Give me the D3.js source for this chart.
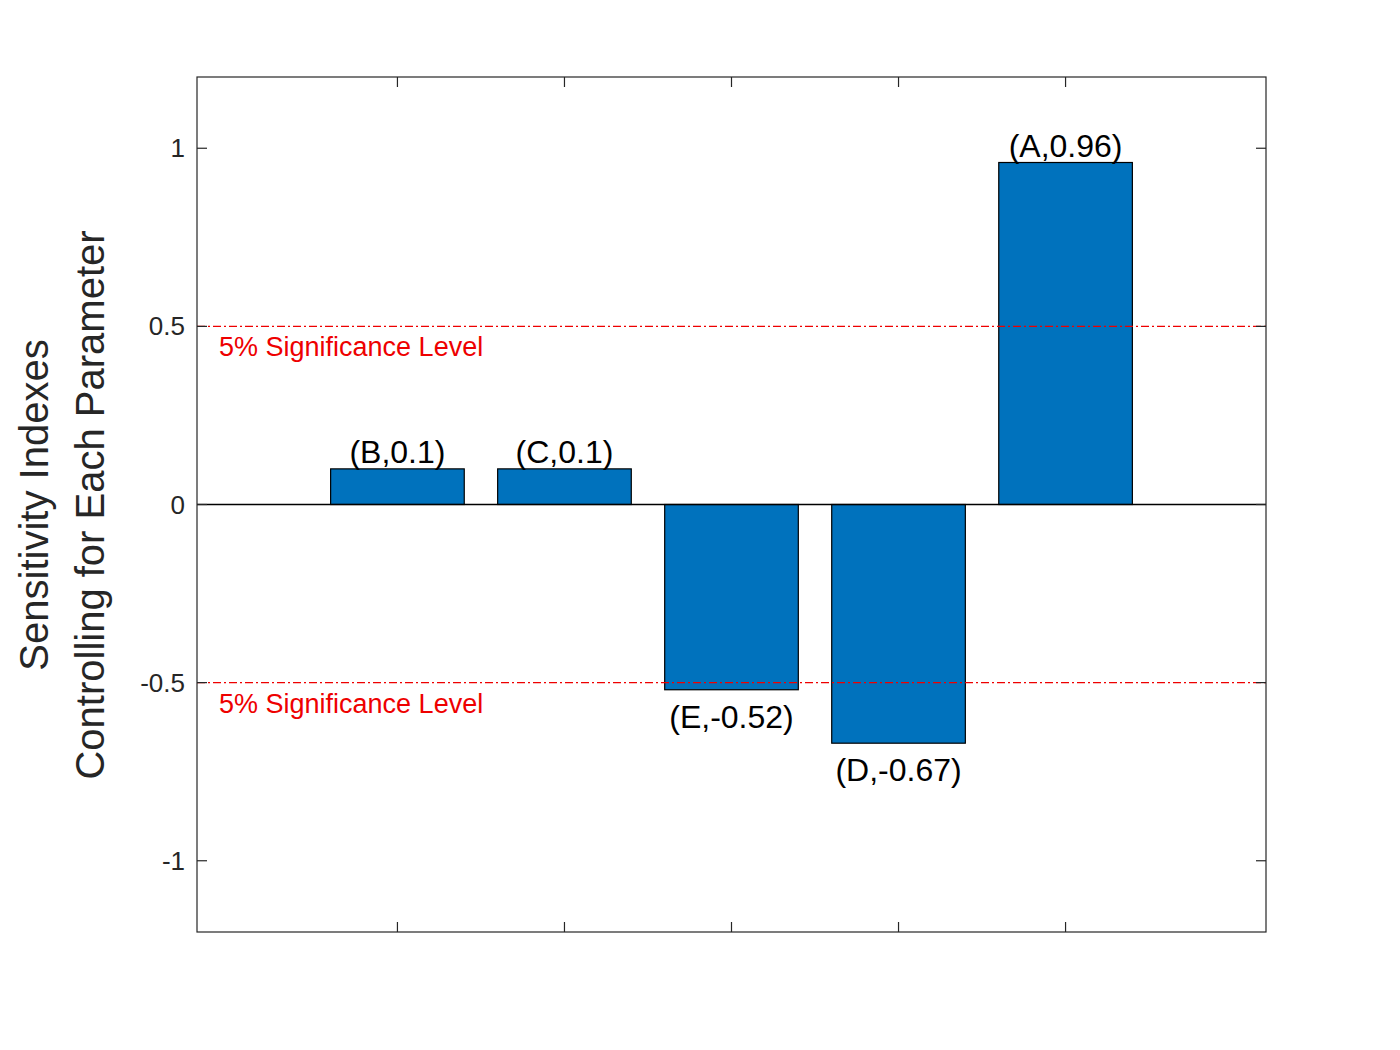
<!DOCTYPE html>
<html><head><meta charset="utf-8">
<script src="https://cdn.jsdelivr.net/npm/d3@7"></script>
<style>body{margin:0;background:#fff}text{font-family:"Liberation Sans",Arial,sans-serif}</style>
</head><body><svg id="c" width="1400" height="1050"></svg>
<script>
const categories = ['B', 'C', 'E', 'D', 'A'];
const values = [0.1, 0.1, -0.52, -0.67, 0.96];
const yTicks = [-1, -0.5, 0, 0.5, 1];
const sigLevels = [0.5, -0.5];

const svg = d3.select('#c');
const L = 197, R = 1266, T = 77, B = 932;
const x = d3.scaleLinear().domain([-0.2, 6.2]).range([L, R]);
const y = d3.scaleLinear().domain([-1.2, 1.2]).range([B, T]);
const bw = x(0.8) - x(0);

const g = svg.append('g');
// bars
g.selectAll('.bar').data(values).enter().append('rect')
    .attr('x', (d, i) => x(i + 1) - bw / 2)
    .attr('y', d => y(Math.max(0, d)))
    .attr('width', bw)
    .attr('height', d => Math.abs(y(d) - y(0)))
    .attr('fill', '#0072BD').attr('stroke', '#000').attr('stroke-width', 1.2);

// zero line
g.append('line').attr('x1', L).attr('x2', R).attr('y1', y(0)).attr('y2', y(0))
    .attr('stroke', '#000').attr('stroke-width', 1.5);

// significance lines
sigLevels.forEach(s => {
    g.append('line').attr('x1', L).attr('x2', R).attr('y1', y(s)).attr('y2', y(s))
        .attr('stroke', '#e00').attr('stroke-width', 1.2).attr('stroke-dasharray', '8,3,2,3');
    g.append('text').attr('x', 219).attr('y', y(s) + 30).attr('fill', '#e00')
        .attr('font-size', 27).text('5% Significance Level');
});

// bar labels
g.selectAll('.lab').data(values).enter().append('text')
    .attr('x', (d, i) => x(i + 1))
    .attr('y', d => d >= 0 ? y(d) - 6 : y(d) + 38)
    .attr('text-anchor', 'middle').attr('font-size', 32)
    .text((d, i) => `(${categories[i]},${d})`);

// axes
const tk = 10;
const ax = svg.append('g').attr('stroke', '#262626').attr('stroke-width', 1.2);
ax.append('rect').attr('x', L).attr('y', T).attr('width', R - L).attr('height', B - T).attr('fill', 'none');
[1, 2, 3, 4, 5].forEach(v => {
    ax.append('line').attr('x1', x(v)).attr('x2', x(v)).attr('y1', B).attr('y2', B - tk);
    ax.append('line').attr('x1', x(v)).attr('x2', x(v)).attr('y1', T).attr('y2', T + tk);
});
yTicks.forEach(v => {
    ax.append('line').attr('x1', L).attr('x2', L + tk).attr('y1', y(v)).attr('y2', y(v));
    ax.append('line').attr('x1', R).attr('x2', R - tk).attr('y1', y(v)).attr('y2', y(v));
    svg.append('text').attr('x', L - 12).attr('y', y(v) + 9).attr('text-anchor', 'end')
        .attr('font-size', 26).attr('fill', '#262626').text(v);
});

// y title
const yt = svg.append('text').attr('transform', `translate(48,505) rotate(-90)`)
    .attr('text-anchor', 'middle').attr('font-size', 40).attr('fill', '#262626');
yt.append('tspan').attr('x', 0).attr('dy', 0).text('Sensitivity Indexes');
yt.append('tspan').attr('x', 0).attr('dy', 56).text('Controlling for Each Parameter');
</script></body></html>
